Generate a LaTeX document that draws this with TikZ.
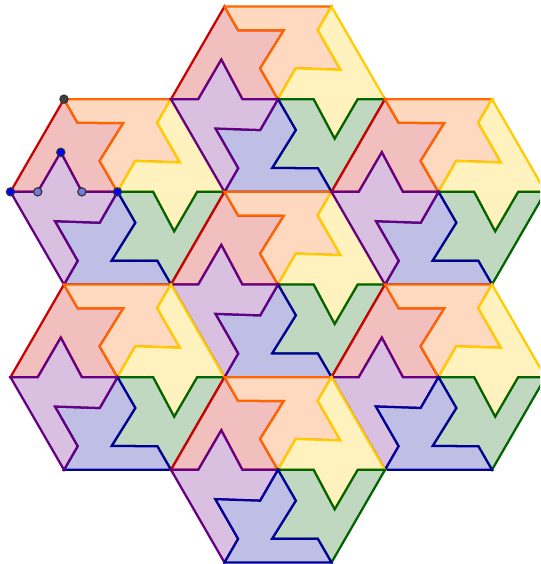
\documentclass[tikz,border=0pt]{standalone}
\usepackage{tikz}
\usetikzlibrary{calc}

\definecolor{tred}{RGB}{204,0,0}
\definecolor{torange}{RGB}{255,102,0}
\definecolor{tyellow}{RGB}{255,204,0}
\definecolor{tgreen}{RGB}{0,100,0}
\definecolor{tblue}{RGB}{0,0,153}
\definecolor{tpurple}{RGB}{102,0,130}
\definecolor{tdot}{RGB}{0,0,255}
\definecolor{tdotlight}{RGB}{120,120,225}

\tikzset{
  piece/.style={draw=#1,fill=#1!25,line width=0.6pt},
  dot/.style={fill=#1,draw=black!80,line width=0.3pt}
}

% piece order: purple last or blue last
\newcommand{\orderP}{180/tred,120/torange,60/tyellow,0/tgreen,-60/tblue,-120/tpurple}
\newcommand{\orderB}{180/tred,120/torange,60/tyellow,0/tgreen,-120/tpurple,-60/tblue}

% one hexagon of six pieces, side 1
\newcommand{\tilehex}[2]{%
  \begin{scope}[shift={(#1)}]
    \foreach \a/\c in #2
      \path[piece=\c] (\a:1) -- (\a-60:1) -- (\a-60:0.745) -- (\a-94.9:0.646)
        -- (\a-60:0.333) -- (0,0) -- (\a:0.333) -- (\a-34.9:0.646) -- (\a:0.745) -- cycle;
  \end{scope}}

\begin{document}
\begin{tikzpicture}
  \useasboundingbox (0,0) rectangle (5.047,5.271);
  \clip (0,0) rectangle (5.047,5.271);
  \coordinate (hc) at (2.598,2.612);
  \coordinate (ht) at (2.598,4.344);
  \coordinate (hb) at (2.598,0.880);
  \coordinate (htl) at (1.098,3.478);
  \coordinate (htr) at (4.098,3.478);
  \coordinate (hbl) at (1.098,1.746);
  \coordinate (hbr) at (4.098,1.746);

  \tilehex{htl}{\orderP}
  \tilehex{ht}{\orderP}
  \tilehex{hc}{\orderP}
  \tilehex{htr}{\orderP}
  \tilehex{hbl}{\orderP}
  \tilehex{hbr}{\orderB}
  \tilehex{hb}{\orderB}

  % construction points
  \fill[dot=black!75] ($(htl)+(120:1)$) circle (1.1pt);
  \fill[dot=tdot] ($(htl)+(180-34.9:0.646)$) circle (1.1pt);
  \fill[dot=tdot] ($(htl)+(180:1)$) circle (1.1pt);
  \fill[dot=tdotlight] ($(htl)+(180:0.745)$) circle (1.1pt);
  \fill[dot=tdotlight] ($(htl)+(180:0.333)$) circle (1.1pt);
  \fill[dot=tdot] (htl) circle (1.1pt);
\end{tikzpicture}
\end{document}
